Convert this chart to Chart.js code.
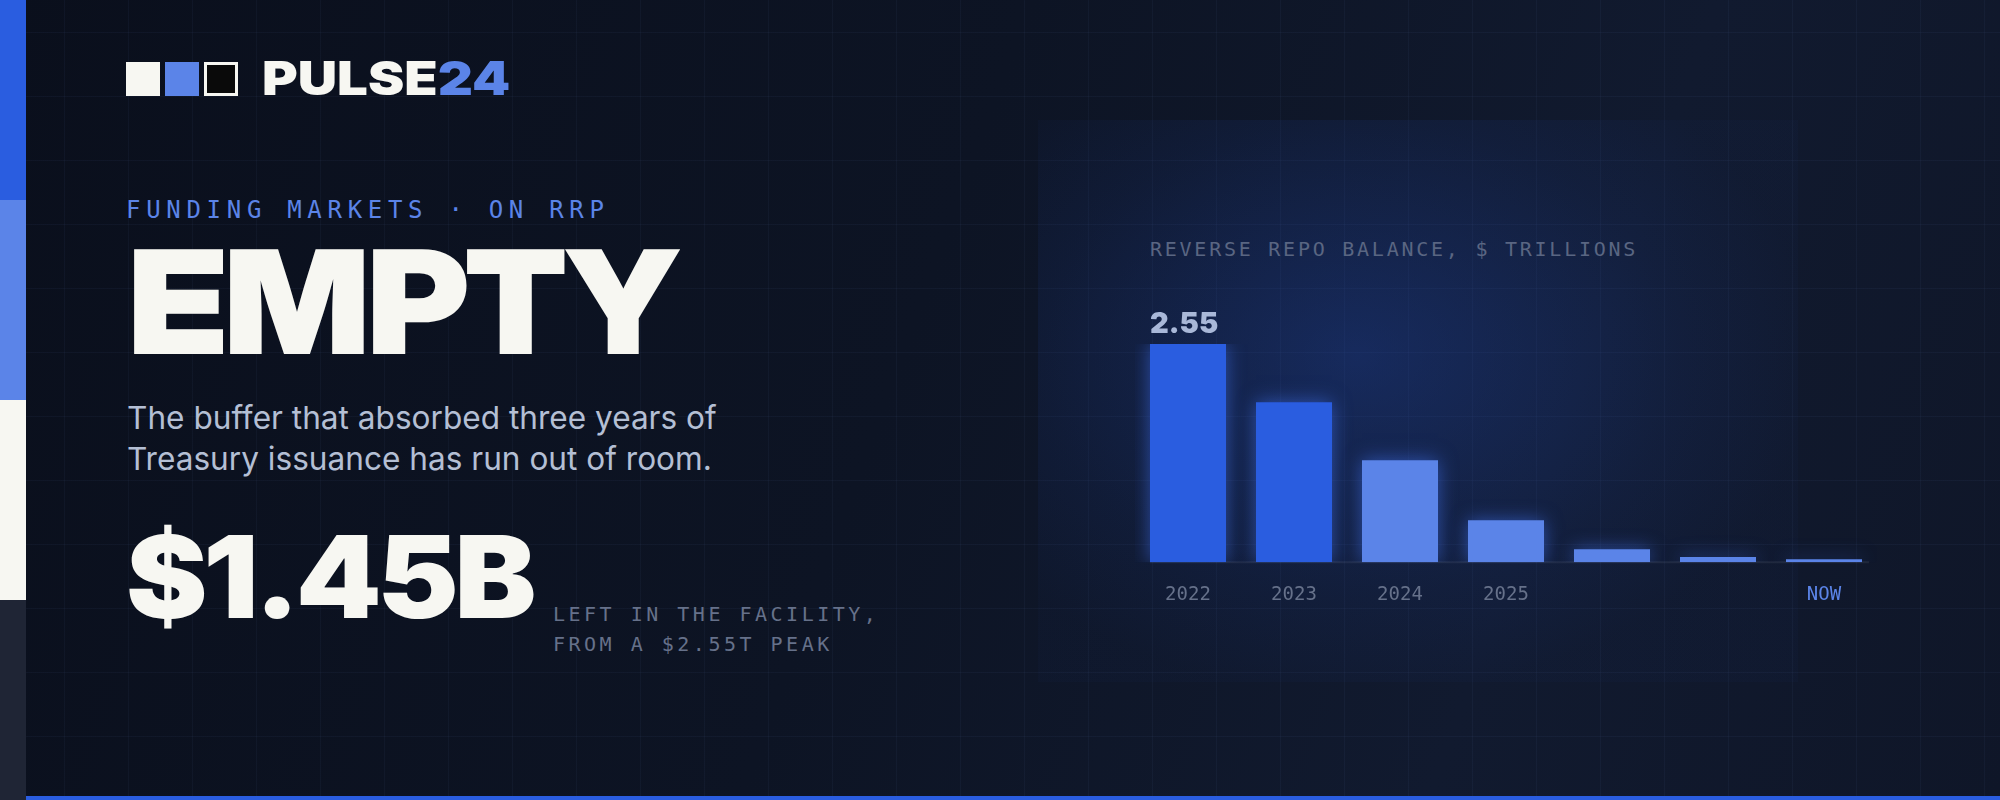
<!DOCTYPE html>
<html>
<head>
<meta charset="utf-8">
<script src="https://cdn.jsdelivr.net/npm/chart.js@4.4.1/dist/chart.umd.min.js"></script>
<style>
  /* same Inter face, but with a shorter ascent so the big word's text box stays clear of the kicker */
  @font-face {
    font-family: "InterTight";
    src: local("Inter Black"), local("Inter-Black"), local("Inter"), local("Inter Regular");
    font-weight: 100 900;
    ascent-override: 80%;
    descent-override: 20%;
  }
  html, body { margin: 0; padding: 0; }
  body {
    width: 2000px; height: 800px; overflow: hidden; position: relative;
    background: linear-gradient(110deg, #0a0f1c 0%, #0d1424 45%, #111a2f 75%, #0f1628 100%);
    font-family: Inter, "Noto Sans", sans-serif;
  }
  .grid {
    position: absolute; inset: 0;
    background-image:
      linear-gradient(to right, rgba(120,150,220,0.05) 1px, transparent 1px),
      linear-gradient(to bottom, rgba(120,150,220,0.05) 1px, transparent 1px);
    background-size: 64px 64px;
    background-position: 0 32px;
  }
  .glow {
    position: absolute; left: 1038px; top: 120px; width: 760px; height: 562px;
    background: radial-gradient(ellipse 60% 60% at 42% 42%, rgba(36,78,190,0.34), rgba(36,78,190,0.10) 70%, rgba(36,78,190,0.03) 100%);
  }
  .stripe { position: absolute; left: 0; width: 26px; height: 200px; }
  .bottom { position: absolute; left: 26px; right: 0; top: 796px; height: 4px; background: #2a5de0; }
  .sq { position: absolute; top: 62px; width: 34px; height: 34px; box-sizing: border-box; }
  .abs { position: absolute; white-space: nowrap; }
  .wide { transform-origin: 0 50%; }
  .mono { font-family: "DejaVu Sans Mono", "Liberation Mono", monospace; }
  #chartBox { position: absolute; left: 1135px; top: 290px; width: 742px; height: 337px; }
</style>
</head>
<body>
<div class="grid"></div>
<div class="glow"></div>

<div class="stripe" style="top:0;background:#2a5de0"></div>
<div class="stripe" style="top:200px;background:#5b84e8"></div>
<div class="stripe" style="top:400px;background:#f7f7f2"></div>
<div class="stripe" style="top:600px;background:#1f2535"></div>
<div class="bottom"></div>

<div class="sq" style="left:126px;background:#f7f7f2"></div>
<div class="sq" style="left:165px;background:#5b84e8"></div>
<div class="sq" style="left:204px;background:#0a0a0a;border:3px solid #f7f7f2"></div>
<div class="abs wide" style="left:262px;top:50px;font-size:47px;font-weight:900;color:#f7f7f2;letter-spacing:0px;line-height:56px;transform:scaleX(1.16)">PULSE<span style="color:#5b84e8">24</span></div>

<div class="abs mono" style="left:126px;top:196px;font-size:24px;line-height:28px;letter-spacing:5.7px;color:#5b84e8">FUNDING MARKETS · ON RRP</div>
<div class="abs wide" style="left:128px;top:247px;font-family:InterTight, Inter, sans-serif;font-size:144px;line-height:128px;font-weight:900;color:#f7f7f2;letter-spacing:-3px;transform:scaleX(1.095)">EMPTY</div>
<div class="abs" style="left:127px;top:397px;font-size:31.6px;line-height:41px;color:#b4bfd4">The buffer that absorbed three years of<br>Treasury issuance has run out of room.</div>
<div class="abs wide" style="left:126px;top:518px;font-size:114px;line-height:118px;font-weight:900;color:#f7f7f2;letter-spacing:-4px;transform:scaleX(1.074)">$1.45B</div>
<div class="abs mono" style="left:553px;top:599px;font-size:20px;line-height:30px;letter-spacing:3.5px;color:#66718a">LEFT IN THE FACILITY,<br>FROM A $2.55T PEAK</div>

<div class="abs mono" style="left:1150px;top:236px;font-size:20px;line-height:26px;letter-spacing:2.75px;color:#5a6682">REVERSE REPO BALANCE, $ TRILLIONS</div>

<div id="chartBox"><canvas id="repoChart"></canvas></div>

<script>
const periods = ["2022", "2023", "2024", "2025", "", "", "NOW"];
const balances = [2.55, 1.87, 1.19, 0.49, 0.15, 0.06, 0.00145];
const barColors = ["#2a5de0", "#2a5de0", "#5b84e8", "#5b84e8", "#5b84e8", "#5b84e8", "#5b84e8"];
const yMin = 0;
const yMax = 2.55;

// faint baseline under the bars, from first bar to just past the last
const baseline = {
    id: "baseline",
    beforeDatasetsDraw(chart) {
        const bars = chart.getDatasetMeta(0).data;
        const first = bars[0];
        const last = bars[bars.length - 1];
        const y = chart.scales.y.getPixelForValue(0);
        const ctx = chart.ctx;
        ctx.save();
        ctx.strokeStyle = "rgba(255,255,255,0.07)";
        ctx.lineWidth = 2;
        ctx.beginPath();
        ctx.moveTo(first.x - first.width / 2, y);
        ctx.lineTo(last.x + last.width / 2 + 7, y);
        ctx.stroke();
        ctx.restore();
    }
};

const glowPlugin = {
    id: "glow",
    beforeDatasetDraw(chart) {
        const ctx = chart.ctx;
        ctx.save();
        ctx.shadowColor = "rgba(70,120,255,0.55)";
        ctx.shadowBlur = 18;
    },
    afterDatasetDraw(chart) {
        chart.ctx.restore();
    }
};

const peakLabel = {
    id: "peakLabel",
    afterDatasetsDraw(chart) {
        const bar = chart.getDatasetMeta(0).data[0];
        const ctx = chart.ctx;
        ctx.save();
        ctx.font = "900 29px Inter";
        ctx.fillStyle = "#a9b8d8";
        ctx.textAlign = "left";
        ctx.textBaseline = "alphabetic";
        ctx.fillText(balances[0].toFixed(2), bar.x - bar.width / 2, bar.y - 11);
        ctx.restore();
    }
};

const canvas = document.getElementById("repoChart");

new Chart(canvas, {
    type: "bar",
    data: {
        labels: periods,
        datasets: [{
            data: balances,
            backgroundColor: barColors,
            borderWidth: 0,
            barPercentage: 0.717,
            categoryPercentage: 1,
            minBarLength: 3
        }]
    },
    options: {
        responsive: true,
        maintainAspectRatio: false,
        animation: false,
        layout: { padding: { top: 54, left: 0, right: 0, bottom: 0 } },
        plugins: {
            legend: { display: false },
            tooltip: { enabled: false }
        },
        scales: {
            x: {
                grid: { display: false, drawTicks: false },
                border: { display: false },
                ticks: {
                    padding: 21,
                    font: { family: "DejaVu Sans Mono", size: 19 },
                    color: ctx => periods[ctx.index] === "NOW" ? "#5b84e8" : "#66718a"
                }
            },
            y: {
                display: false,
                min: yMin,
                max: yMax
            }
        }
    },
    plugins: [baseline, glowPlugin, peakLabel]
});
</script>
</body>
</html>
